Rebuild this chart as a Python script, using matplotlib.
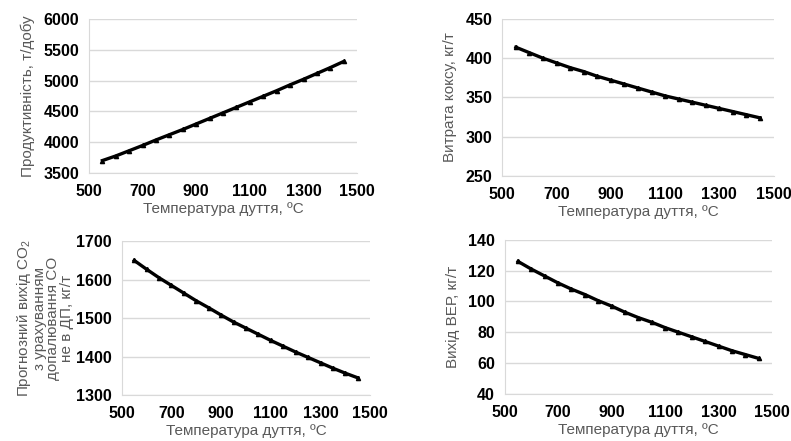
import matplotlib.pyplot as plt

plt.rcParams['font.family'] = ['Liberation Sans', 'DejaVu Sans']
plt.rcParams['mathtext.fontset'] = 'custom'
plt.rcParams['mathtext.rm'] = 'Liberation Sans'

# Data
temps = [550, 600, 650, 700, 750, 800, 850, 900, 950, 1000,
         1050, 1100, 1150, 1200, 1250, 1300, 1350, 1400, 1450]
productivity = [3700, 3775, 3860, 3945, 4035, 4120, 4205, 4295, 4385, 4475,
                4565, 4655, 4745, 4835, 4930, 5020, 5115, 5210, 5310]
coke = [414, 407, 400, 394, 388, 383, 377, 372, 367, 362,
        357, 352, 348, 344, 340, 336, 332, 328, 324]
co2 = [1650, 1627, 1605, 1585, 1565, 1545, 1527, 1508, 1490, 1474,
       1458, 1442, 1427, 1412, 1398, 1384, 1370, 1357, 1345]
ver = [126, 121, 116.5, 112, 108, 104.5, 100.5, 97, 93, 89.5,
       86.5, 83, 80, 77, 74, 71, 68, 65.5, 63]

xlabel = 'Температура дуття, ºC'
panels = [
    ([0.1125, 0.608, 0.339, 0.349], productivity, (3500, 6000, 500), 'Продуктивність, т/добу', 6),
    ([0.635, 0.601, 0.343, 0.356], coke, (250, 450, 50), 'Витрата коксу, кг/т', 6),
    ([0.154, 0.104, 0.314, 0.349], co2, (1300, 1700, 100),
     'Прогнозний вихід CO$_2$\nз урахуванням\nдопалювання CO\nне в ДП, кг/т', 2),
    ([0.638, 0.107, 0.338, 0.349], ver, (40, 140, 20), 'Вихід ВЕР, кг/т', 6),
]

fig = plt.figure(figsize=(7.91, 4.41), dpi=100)
for rect, vals, (lo, hi, step), ylab, lpad in panels:
    ax = fig.add_axes(rect)
    ax.plot(temps, vals, color='black', lw=2.4, marker='^', ms=3, zorder=3)
    ax.set_xlim(500, 1500)
    ax.set_ylim(lo, hi)
    ax.set_xticks(range(500, 1501, 200))
    ax.set_yticks(range(lo, hi + 1, step))
    ax.grid(axis='y', color='#d9d9d9', lw=1)
    ax.set_axisbelow(True)
    for s in ['top', 'right']:
        ax.spines[s].set_visible(False)
    for s in ['left', 'bottom']:
        ax.spines[s].set_color('#d9d9d9')
    ax.tick_params(axis='y', length=0, labelsize=11.5, pad=7)
    ax.tick_params(axis='x', length=0, labelsize=11.5, pad=8)
    for lab in ax.get_xticklabels() + ax.get_yticklabels():
        lab.set_fontweight('bold')
    ax.set_xlabel(xlabel, fontsize=11, color='#595959', labelpad=2)
    ax.set_ylabel(ylab, fontsize=11, color='#595959', labelpad=lpad, linespacing=0.95)

fig.savefig('out.png', dpi=100)
